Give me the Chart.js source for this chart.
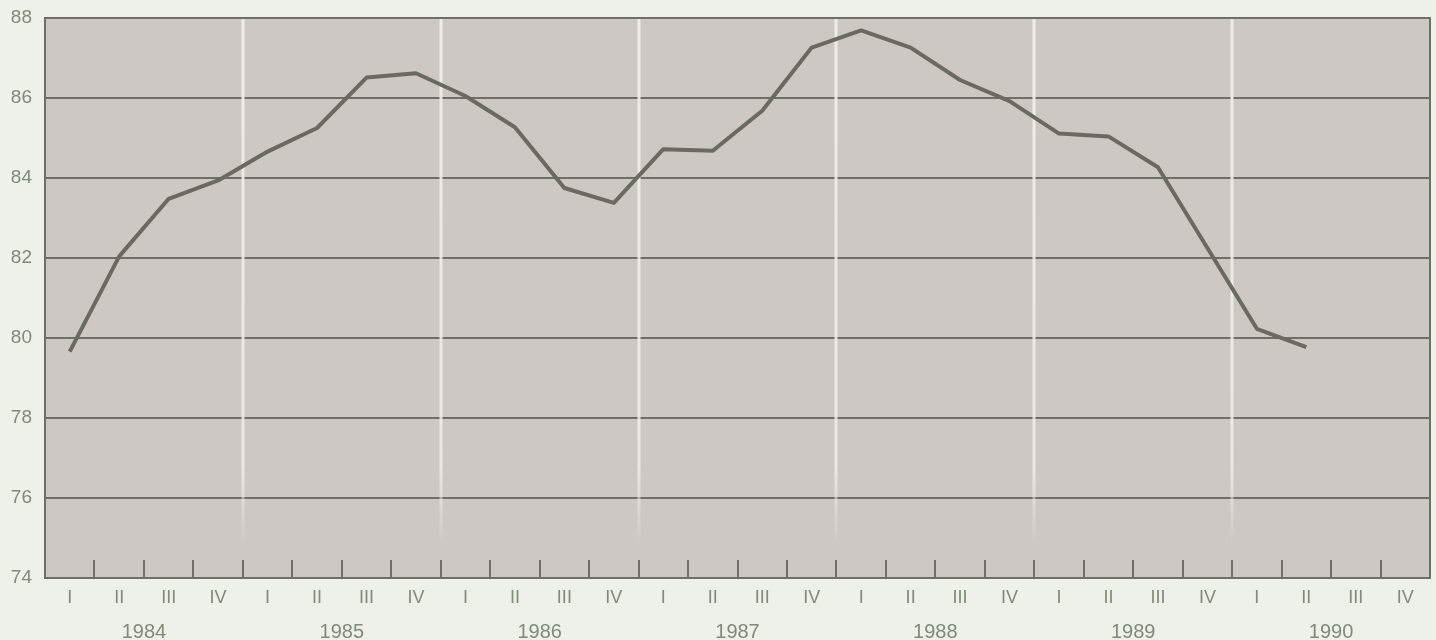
<!DOCTYPE html>
<html>
<head>
<meta charset="utf-8">
<script src="https://cdn.jsdelivr.net/npm/chart.js@4/dist/chart.umd.min.js"></script>
<style>
  html, body { margin: 0; padding: 0; background: #eef0ea; }
  #wrap { width: 1436px; height: 640px; position: relative; }
</style>
</head>
<body>
<div id="wrap"><canvas id="c" width="1436" height="640"></canvas></div>
<script>
// Quarterly index, 1984 I – 1990 IV (last two quarters not yet available)
const years = ['1984', '1985', '1986', '1987', '1988', '1989', '1990'];
const quarters = ['I', 'II', 'III', 'IV'];
const quarterLabels = years.flatMap(() => quarters);
const indexValues = [
  79.66, 82.04, 83.48, 83.94,   // 1984
  84.66, 85.25, 86.51, 86.62,   // 1985
  86.05, 85.27, 83.75, 83.38,   // 1986
  84.72, 84.68, 85.68, 87.26,   // 1987
  87.69, 87.26, 86.45, 85.92,   // 1988
  85.11, 85.04, 84.27, 82.25,   // 1989
  80.23, 79.77, null, null      // 1990
];
const yTicks = [74, 76, 78, 80, 82, 84, 86, 88];

const labelColor = '#7f8b78';
const gridColor = '#6f6e67';
const fontFamily = '"Liberation Sans", Arial, Helvetica, sans-serif';

// Plot background, year separators, inner quarter ticks and frame
const framePlugin = {
  id: 'frame',
  beforeDraw(chart) {
    const { ctx, chartArea: a } = chart;
    ctx.save();
    ctx.fillStyle = '#cec8c4';
    ctx.fillRect(a.left, a.top, a.right - a.left, a.bottom - a.top);
    ctx.restore();
  },
  beforeDatasetsDraw(chart) {
    const { ctx, chartArea: a, scales } = chart;
    const x = scales.x, y = scales.y;
    const n = quarterLabels.length;
    ctx.save();
    // light separators between years
    const yEnd = y.getPixelForValue(74.8);
    for (let i = 4; i < n; i += 4) {
      const px = Math.round((x.getPixelForValue(i - 1) + x.getPixelForValue(i)) / 2);
      const g = ctx.createLinearGradient(0, a.top, 0, yEnd);
      g.addColorStop(0, 'rgba(240,238,232,0.95)');
      g.addColorStop(0.85, 'rgba(240,238,232,0.85)');
      g.addColorStop(1, 'rgba(240,238,232,0)');
      ctx.strokeStyle = g;
      ctx.lineWidth = 3;
      ctx.beginPath();
      ctx.moveTo(px, a.top);
      ctx.lineTo(px, yEnd);
      ctx.stroke();
    }
    // short quarter ticks rising from the base line
    const tickTop = y.getPixelForValue(74.45);
    ctx.strokeStyle = gridColor;
    ctx.lineWidth = 2;
    for (let i = 1; i < n; i++) {
      const px = Math.round((x.getPixelForValue(i - 1) + x.getPixelForValue(i)) / 2);
      ctx.beginPath();
      ctx.moveTo(px, a.bottom);
      ctx.lineTo(px, tickTop);
      ctx.stroke();
    }
    ctx.restore();
  },
  afterDraw(chart) {
    const { ctx, chartArea: a } = chart;
    ctx.save();
    ctx.strokeStyle = gridColor;
    ctx.lineWidth = 2;
    ctx.strokeRect(a.left, a.top, a.right - a.left, a.bottom - a.top);
    ctx.restore();
  }
};

new Chart(document.getElementById('c'), {
  type: 'line',
  data: {
    labels: quarterLabels,
    datasets: [{
      data: indexValues,
      borderColor: '#6a6a62',
      borderWidth: 4,
      pointRadius: 0,
      tension: 0,
      spanGaps: false,
      borderJoinStyle: 'round',
      borderCapStyle: 'butt'
    }]
  },
  options: {
    responsive: false,
    animation: false,
    events: [],
    layout: { padding: { top: 18, right: 6, left: 0, bottom: 0 } },
    plugins: { legend: { display: false }, tooltip: { enabled: false } },
    scales: {
      x: {
        type: 'category',
        position: 'bottom',
        weight: 0,
        offset: true,
        grid: { display: false, drawTicks: false, offset: true },
        border: { display: false },
        ticks: {
          color: labelColor,
          font: { family: fontFamily, size: 18 },
          padding: 9,
          maxRotation: 0,
          autoSkip: false
        },
        afterFit(s) { s.height = 40; s.paddingLeft = 0; s.paddingRight = 0; }
      },
      x2: {
        type: 'category',
        position: 'bottom',
        weight: 1,
        labels: years,
        offset: true,
        grid: { display: false, drawTicks: false },
        border: { display: false },
        ticks: {
          color: labelColor,
          font: { family: fontFamily, size: 20 },
          padding: 2,
          maxRotation: 0,
          autoSkip: false
        },
        afterFit(s) { s.height = 22; s.paddingLeft = 0; s.paddingRight = 0; }
      },
      y: {
        min: 74,
        max: 88,
        afterBuildTicks(s) { s.ticks = yTicks.map(v => ({ value: v })); },
        grid: { color: gridColor, lineWidth: 2, drawTicks: false },
        border: { display: false },
        ticks: {
          color: labelColor,
          font: { family: fontFamily, size: 19 },
          padding: 13
        },
        afterFit(s) { s.width = 45; s.paddingTop = 0; s.paddingBottom = 0; }
      }
    }
  },
  plugins: [framePlugin]
});
</script>
</body>
</html>
